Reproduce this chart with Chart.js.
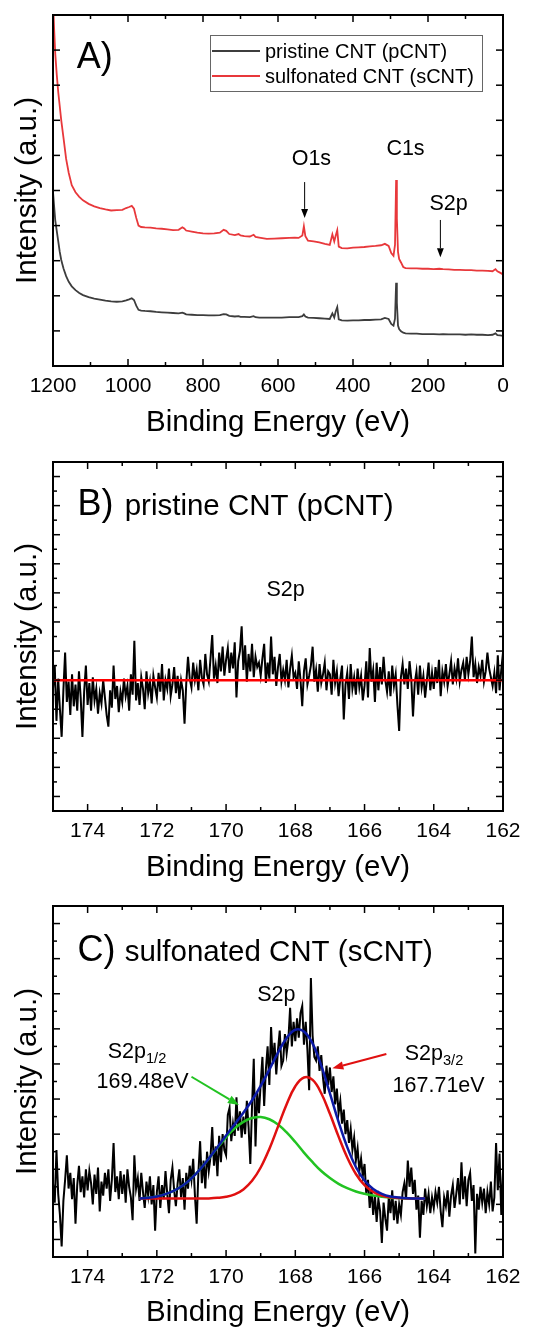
<!DOCTYPE html>
<html>
<head>
<meta charset="utf-8">
<script src="https://cdn.jsdelivr.net/npm/chart.js@4.4.1/dist/chart.umd.min.js"></script>
<style>
  body { margin: 0; background: #fff; }
  #wrap { position: relative; width: 543px; height: 1328px; }
  canvas { position: absolute; left: 0; }
</style>
</head>
<body>
<div id="wrap">
  <canvas id="chart-a" width="543" height="440" style="top:0px"></canvas>
  <canvas id="chart-b" width="543" height="445" style="top:440px"></canvas>
  <canvas id="chart-c" width="543" height="443" style="top:885px"></canvas>
</div>
<script>
// A) survey spectra, binding energy (eV) vs intensity (a.u.)
const surveyEnergy = [1200, 1197, 1194, 1190, 1186, 1182, 1178, 1172, 1165, 1158, 1150, 1140, 1130, 1120, 1105, 1090, 1075, 1060, 1045, 1030,
    1015, 1005, 997, 990, 984, 978, 972, 965, 955, 940, 925, 910, 895, 880, 865, 855, 850, 845, 830, 815,
    800, 785, 770, 755, 745, 738, 730, 715, 705, 700, 690, 675, 665, 660, 650, 630, 610, 590, 570, 555,
    545, 535, 531, 527, 520, 505, 490, 475, 462, 455, 450, 446, 442, 438, 430, 415, 400, 385, 370, 355,
    340, 325, 315, 305, 298, 292, 288, 285, 283, 280, 277, 272, 266, 260, 245, 230, 215, 200, 185, 170,
    160, 145, 130, 115, 100, 85, 70, 55, 40, 28, 20, 15, 8, 0];
const surveyPristine = [4.96, 4.55, 4.15, 3.85, 3.55, 3.25, 3.02, 2.78, 2.56, 2.40, 2.27, 2.16, 2.08, 2.02, 1.96, 1.92, 1.89, 1.86, 1.84, 1.83,
    1.84, 1.87, 1.90, 1.93, 1.88, 1.72, 1.60, 1.58, 1.57, 1.56, 1.54, 1.53, 1.52, 1.51, 1.50, 1.52, 1.50, 1.47, 1.46, 1.45,
    1.45, 1.44, 1.44, 1.45, 1.48, 1.47, 1.43, 1.41, 1.42, 1.40, 1.40, 1.39, 1.42, 1.39, 1.38, 1.38, 1.38, 1.38, 1.39, 1.39,
    1.39, 1.42, 1.47, 1.41, 1.38, 1.37, 1.36, 1.35, 1.34, 1.50, 1.38, 1.56, 1.68, 1.33, 1.30, 1.29, 1.30, 1.30, 1.31, 1.31,
    1.32, 1.33, 1.37, 1.34, 1.20, 1.15, 1.35, 2.37, 1.80, 1.15, 1.05, 0.99, 0.95, 0.93, 0.92, 0.92, 0.91, 0.91, 0.91, 0.90,
    0.91, 0.90, 0.90, 0.90, 0.89, 0.90, 0.89, 0.89, 0.88, 0.89, 0.93, 0.88, 0.87, 0.86];
const surveySulfonated = [10.4, 9.6, 8.9, 8.3, 7.8, 7.4, 7.0, 6.5, 5.9, 5.5, 5.15, 4.95, 4.82, 4.72, 4.62, 4.55, 4.50, 4.46, 4.43, 4.44,
    4.45, 4.50, 4.53, 4.56, 4.48, 4.22, 4.00, 3.96, 3.95, 3.94, 3.92, 3.91, 3.89, 3.87, 3.88, 3.95, 3.92, 3.86, 3.83, 3.80,
    3.78, 3.77, 3.78, 3.80, 3.88, 3.85, 3.76, 3.73, 3.76, 3.72, 3.70, 3.69, 3.74, 3.68, 3.66, 3.62, 3.63, 3.64, 3.65, 3.66,
    3.65, 3.72, 3.98, 3.70, 3.57, 3.55, 3.52, 3.48, 3.45, 3.75, 3.55, 3.72, 3.87, 3.40, 3.36, 3.35, 3.37, 3.38, 3.39, 3.41,
    3.42, 3.44, 3.48, 3.42, 3.22, 3.14, 3.45, 5.30, 4.20, 3.25, 3.05, 2.95, 2.82, 2.79, 2.78, 2.78, 2.77, 2.77, 2.76, 2.77,
    2.76, 2.75, 2.74, 2.74, 2.73, 2.73, 2.72, 2.72, 2.71, 2.70, 2.76, 2.70, 2.66, 2.61];

// B) and C) S2p scans, 175 -> 162 eV in 0.05 eV steps
const S2P_START = 175;
const S2P_STEP = 0.05;
const pristineS2p = [
    8.4, 10.0, 6.2, 9.1, 7.0, 5.1, 8.3, 10.9, 7.5, 8.9, 6.6, 9.4, 7.2, 8.7, 6.9, 9.6, 7.8, 5.1, 8.2, 10.0,
    7.3, 8.8, 6.9, 9.2, 7.6, 8.4, 6.7, 8.1, 7.4, 9.0, 7.8, 6.6, 5.8, 8.3, 7.1, 10.0, 7.7, 8.6, 6.8, 8.2,
    7.5, 9.1, 7.9, 8.6, 6.9, 9.4, 8.0, 11.7, 7.6, 8.8, 7.3, 9.2, 8.4, 7.0, 9.6, 8.1, 8.9, 7.4, 9.3, 8.5,
    7.8, 9.5, 8.2, 10.1, 7.6, 9.0, 8.4, 9.8, 7.9, 8.7, 9.9, 8.1, 9.3, 7.7, 9.0, 8.3, 6.0, 8.8, 10.6, 9.1,
    8.5, 10.2, 9.0, 9.7, 8.3, 10.4, 9.2, 8.7, 10.8, 9.4, 8.9, 10.5, 12.1, 9.1, 10.0, 8.8, 10.9, 9.6, 11.3, 9.3,
    10.4, 11.2, 9.5, 10.9, 9.8, 11.6, 7.8, 10.3, 11.0, 12.7, 9.7, 11.4, 8.9, 10.8, 9.6, 11.5, 9.2, 10.6, 9.9, 10.2,
    9.3, 10.5, 11.5, 8.8, 10.2, 9.1, 12.0, 9.4, 10.6, 8.6, 9.9, 10.8, 8.9, 9.7, 9.0, 10.4, 8.5, 9.8, 10.7, 9.2,
    9.5, 8.4, 10.3, 9.0, 7.2, 9.6, 10.5, 8.7, 9.3, 10.0, 11.3, 8.9, 9.7, 8.2, 10.1, 8.8, 9.4, 10.2, 8.3, 9.6,
    9.4, 8.0, 10.4, 8.8, 9.6, 7.9, 9.1, 10.0, 6.3, 8.7, 9.5, 7.7, 10.1, 8.4, 9.2, 8.0, 9.8, 8.5, 9.3, 7.6,
    8.6, 10.3, 7.8, 11.2, 8.9, 9.7, 7.5, 10.2, 8.3, 9.9, 8.7, 10.6, 9.0, 8.2, 9.6, 7.9, 10.0, 8.6, 9.4, 7.3,
    5.5, 9.2, 10.1, 8.7, 9.8, 8.4, 10.3, 9.1, 6.5, 8.8, 9.6, 8.0, 10.0, 8.5, 9.3, 7.8, 9.0, 10.2, 8.3, 9.5,
    8.4, 9.9, 8.8, 10.4, 7.9, 9.6, 8.9, 10.1, 8.6, 9.4, 10.3, 8.7, 9.8, 9.1, 10.5, 8.9, 9.7, 10.2, 9.0, 10.6,
    9.4, 10.3, 12.0, 9.2, 10.1, 8.8, 9.9, 9.3, 10.4, 8.9, 9.6, 10.9, 9.8, 9.2, 8.6, 9.5, 8.1, 10.7, 8.3, 9.7,
    10.9];
const pristineFitEnergy = [175, 162];
const pristineFit = [9.0, 9.0];

const sulfonatedS2p = [
    4.2, 3.1, 6.1, 3.6, 2.4, 0.6, 3.2, 4.4, 5.8, 3.9, 4.8, 3.3, 4.5, 1.9, 4.1, 5.2, 3.7, 4.6, 3.4, 5.0,
    3.8, 4.9, 4.2, 3.0, 4.7, 3.6, 5.1, 2.6, 4.3, 3.5, 4.8, 3.9, 5.0, 3.2, 4.4, 6.5, 3.7, 4.6, 3.3, 4.9,
    3.6, 4.7, 3.1, 5.0, 4.0, 3.4, 2.1, 5.8, 3.9, 4.5, 3.2, 4.8, 3.7, 2.8, 4.3, 3.5, 4.6, 3.0, 4.1, 1.5,
    3.7, 4.6, 2.8, 4.1, 3.3, 4.9, 3.6, 2.5, 4.4, 5.1, 3.8, 2.9, 4.2, 5.0, 3.4, 4.5, 2.7, 4.8, 3.9, 5.2,
    4.4, 5.6, 3.5, 1.9, 4.8, 6.6, 4.2, 5.5, 3.9, 6.0, 4.9, 5.7, 7.4, 5.2, 6.3, 4.6, 6.9, 5.4, 7.0, 6.1,
    5.8, 8.1, 8.5, 6.6, 7.6, 6.9, 9.1, 7.2, 8.3, 6.8, 8.0, 7.0, 8.9, 7.4, 5.3, 8.6, 11.3, 6.3, 9.4, 8.2,
    9.9, 11.4, 8.6, 10.7, 12.0, 9.8, 13.1, 11.0, 12.2, 10.4, 11.8, 12.9, 10.9, 11.2, 12.7, 11.6, 12.4, 14.2, 12.0, 13.4,
    12.3, 13.6, 12.5, 13.9, 14.3, 12.1, 13.4, 11.8, 9.5, 15.9, 12.6, 11.4, 11.2, 12.0, 10.6, 11.5, 10.2, 9.3, 10.9, 9.8,
    10.8, 9.4, 10.3, 8.7, 9.6, 8.2, 8.9, 7.6, 8.4, 7.0, 7.8, 6.5, 7.3, 6.1, 6.8, 5.5, 6.2, 4.9, 5.6, 4.6,
    5.3, 3.6, 4.4, 2.8, 3.9, 2.4, 3.5, 2.0, 3.3, 2.6, 0.8, 3.1, 2.2, 1.5, 3.4, 2.5, 3.8, 2.1, 3.2, 1.9,
    3.0, 2.4, 3.7, 4.2, 3.3, 5.5, 4.0, 5.1, 3.6, 4.4, 2.7, 3.5, 1.1, 3.2, 2.4, 3.9, 2.9, 3.6, 2.5, 3.4,
    2.8, 3.7, 3.1, 4.0, 2.6, 1.7, 3.4, 2.9, 3.8, 2.3, 3.5, 4.1, 2.8, 3.6, 4.5, 3.0, 5.4, 3.3, 4.6, 2.9,
    4.4, 4.8, 3.2, 4.1, 0.2, 3.6, 2.7, 4.0, 3.1, 3.9, 2.5, 3.7, 3.0, 4.3, 2.6, 3.4, 6.5, 3.8, 5.9, 2.4,
    4.9];

// peak fit of the sCNT S2p region
const fitEnergy = [172.5, 172.25, 172.0, 171.75, 171.5, 171.25, 171.0, 170.75, 170.5, 170.25, 170.0, 169.75,
    169.5, 169.25, 169.0, 168.75, 168.5, 168.25, 168.0, 167.75, 167.5, 167.25, 167.0, 166.75,
    166.5, 166.25, 166.0, 165.75, 165.5, 165.25, 165.0, 164.75, 164.5, 164.25];
const fitS2p12 = [3.33, 3.37, 3.45, 3.58, 3.78, 4.07, 4.48, 5.00, 5.60, 6.22, 6.82, 7.33,
    7.70, 7.92, 7.98, 7.85, 7.55, 7.10, 6.55, 5.95, 5.40, 4.90, 4.50, 4.17,
    3.92, 3.73, 3.60, 3.50, 3.43, 3.38, 3.36, 3.34, 3.33, 3.33];
const fitS2p32 = [3.33, 3.33, 3.33, 3.33, 3.33, 3.33, 3.33, 3.33, 3.34, 3.37, 3.43, 3.57,
    3.85, 4.34, 5.10, 6.16, 7.43, 8.71, 9.73, 10.23, 10.09, 9.33, 8.16, 6.86,
    5.67, 4.73, 4.09, 3.71, 3.50, 3.40, 3.36, 3.34, 3.33, 3.33];
const fitEnvelope = [3.33, 3.37, 3.45, 3.58, 3.78, 4.07, 4.48, 5.00, 5.61, 6.26, 6.92, 7.57,
    8.22, 8.93, 9.75, 10.68, 11.65, 12.48, 12.95, 12.85, 12.16, 10.90, 9.33, 7.70,
    6.26, 5.13, 4.36, 3.88, 3.60, 3.45, 3.39, 3.35, 3.33, 3.33];

const FONT = '"Liberation Sans", Arial, sans-serif';
Chart.defaults.font.family = FONT;
Chart.defaults.color = '#000';

const pts = (xs, ys) => ys.map((y, i) => ({ x: xs[i], y: y }));
const scanPts = ys => ys.map((y, i) => ({ x: S2P_START - i * S2P_STEP, y: y }));

function line(ctx, x1, y1, x2, y2) {
    ctx.beginPath();
    ctx.moveTo(x1, y1);
    ctx.lineTo(x2, y2);
    ctx.stroke();
}

function arrow(ctx, x1, y1, x2, y2, color, width, head) {
    const a = Math.atan2(y2 - y1, x2 - x1);
    const bx = x2 - head * Math.cos(a), by = y2 - head * Math.sin(a);
    const w = head * 0.38;
    ctx.strokeStyle = color;
    ctx.fillStyle = color;
    ctx.lineWidth = width;
    line(ctx, x1, y1, bx, by);
    ctx.beginPath();
    ctx.moveTo(x2, y2);
    ctx.lineTo(bx + w * Math.sin(a), by - w * Math.cos(a));
    ctx.lineTo(bx - w * Math.sin(a), by + w * Math.cos(a));
    ctx.closePath();
    ctx.fill();
}

// box frame with inward ticks on all four sides
function framePlugin(xMajor, yMajor, ySkipMinor) {
    return {
        id: 'frame',
        afterDatasetsDraw(chart) {
            const { ctx, chartArea: a, scales: { x, y } } = chart;
            ctx.save();
            ctx.strokeStyle = '#000';
            ctx.lineWidth = 1.5;
            x.ticks.forEach(t => {
                const px = x.getPixelForValue(t.value);
                if (px < a.left + 2 || px > a.right - 2) return;
                const len = xMajor(t.value) ? 7 : 4;
                line(ctx, px, a.bottom, px, a.bottom - len);
                line(ctx, px, a.top, px, a.top + len);
            });
            y.ticks.forEach(t => {
                const py = y.getPixelForValue(t.value);
                if (py < a.top + 2 || py > a.bottom - 2) return;
                const major = yMajor(t.value);
                if (!major && ySkipMinor) return;
                const len = major ? 7 : 4;
                line(ctx, a.left, py, a.left + len, py);
                line(ctx, a.right, py, a.right - len, py);
            });
            ctx.lineWidth = 2;
            ctx.strokeRect(a.left, a.top, a.right - a.left, a.bottom - a.top);
            ctx.restore();
        }
    };
}

// labels and arrows placed in data coordinates
function notesPlugin(items, withLegend) {
    return {
        id: 'notes',
        afterDraw(chart) {
            const { ctx, chartArea: a, scales: { x, y } } = chart;
            ctx.save();
            items.forEach(n => {
                if (n.kind === 'arrow') {
                    arrow(ctx, x.getPixelForValue(n.x1), y.getPixelForValue(n.y1),
                        x.getPixelForValue(n.x2), y.getPixelForValue(n.y2), n.color, n.width, n.head);
                    return;
                }
                const px = x.getPixelForValue(n.x), py = y.getPixelForValue(n.y);
                ctx.fillStyle = '#000';
                ctx.textBaseline = 'alphabetic';
                ctx.font = n.size + 'px ' + FONT;
                ctx.textAlign = n.align || 'left';
                ctx.fillText(n.text, px, py);
                if (n.sub) {
                    const w = ctx.measureText(n.text).width;
                    ctx.font = (n.size * 0.68) + 'px ' + FONT;
                    ctx.textAlign = 'left';
                    ctx.fillText(n.sub, px + w, py + n.size * 0.24);
                }
            });
            if (withLegend) {
                const bx = a.left + 157, by = a.top + 20;
                ctx.strokeStyle = '#666';
                ctx.lineWidth = 1;
                ctx.strokeRect(bx + 0.5, by + 0.5, 272, 56);
                ctx.font = '20px ' + FONT;
                ctx.textAlign = 'left';
                ctx.fillStyle = '#000';
                chart.data.datasets.forEach((ds, i) => {
                    const ly = by + 16 + i * 25;
                    ctx.strokeStyle = ds.borderColor;
                    ctx.lineWidth = 2;
                    line(ctx, bx + 2, ly, bx + 50, ly);
                    ctx.fillText(ds.label, bx + 55, ly + 7);
                });
            }
            ctx.restore();
        }
    };
}

function axes(o) {
    return {
        x: {
            type: 'linear', min: o.xMin, max: o.xMax, reverse: true,
            afterFit: s => { s.height = o.xHeight; },
            grid: { display: false, drawTicks: false },
            border: { display: false },
            ticks: {
                stepSize: o.xStep, autoSkip: false, maxRotation: 0, padding: 8,
                font: { size: 21 }, color: '#000',
                callback: v => o.xMajor(v) ? String(v) : ''
            },
            title: {
                display: true, text: 'Binding Energy (eV)', color: '#000',
                font: { size: 29.5, lineHeight: 1 }, padding: { top: 0, bottom: o.titlePad }
            }
        },
        y: {
            type: 'linear', min: 0, max: o.yMax,
            afterFit: s => { s.width = 53; },
            grid: { display: false, drawTicks: false },
            border: { display: false },
            ticks: { display: false, stepSize: 1 },
            title: {
                display: true, text: 'Intensity (a.u.)', color: '#000',
                font: { size: 29.5, lineHeight: 1 }, padding: { top: 13, bottom: 0 }
            }
        }
    };
}

const baseOptions = (top, scales) => ({
    responsive: false,
    animation: false,
    events: [],
    layout: { padding: { top: top, right: 40, left: 0, bottom: 0 } },
    elements: { point: { radius: 0 }, line: { tension: 0 } },
    plugins: { legend: { display: false }, tooltip: { enabled: false } },
    scales: scales
});

const everyOther200 = v => v % 200 === 0;
const even = v => v % 2 === 0;
const odd = v => Math.abs(v % 2) === 1;

new Chart(document.getElementById('chart-a'), {
    type: 'line',
    data: {
        datasets: [
            { label: 'pristine CNT (pCNT)', data: pts(surveyEnergy, surveyPristine), borderColor: '#3d3d3d', borderWidth: 1.8 },
            { label: 'sulfonated CNT (sCNT)', data: pts(surveyEnergy, surveySulfonated), borderColor: '#e8383b', borderWidth: 1.8 }
        ]
    },
    options: baseOptions(15, axes({ xMin: 0, xMax: 1200, xStep: 100, xMajor: everyOther200, xHeight: 74, titlePad: 2, yMax: 10 })),
    plugins: [
        framePlugin(everyOther200, () => true, false),
        notesPlugin([
            { text: 'A)', x: 1136.8, y: 8.49, size: 36 },
            { text: 'O1s', x: 511, y: 5.73, size: 21.5, align: 'center' },
            { kind: 'arrow', x1: 529, y1: 5.24, x2: 529, y2: 4.22, color: '#000', width: 1, head: 9 },
            { text: 'C1s', x: 260, y: 6.02, size: 21.5, align: 'center' },
            { text: 'S2p', x: 145, y: 4.45, size: 21.5, align: 'center' },
            { kind: 'arrow', x1: 167, y1: 4.16, x2: 167, y2: 3.10, color: '#000', width: 1, head: 9 }
        ], true)
    ]
});

new Chart(document.getElementById('chart-b'), {
    type: 'line',
    data: {
        datasets: [
            { label: 'fit', data: pts(pristineFitEnergy, pristineFit), borderColor: '#ff0000', borderWidth: 2.5, order: 0 },
            { label: 'pCNT S2p', data: scanPts(pristineS2p), borderColor: '#000', borderWidth: 2, order: 1 }
        ]
    },
    options: baseOptions(22, axes({ xMin: 162, xMax: 175, xStep: 1, xMajor: even, xHeight: 74, titlePad: 2, yMax: 24 })),
    plugins: [
        framePlugin(even, odd, false),
        notesPlugin([
            { text: 'B)', x: 174.29, y: 20.36, size: 36 },
            { text: 'pristine CNT (pCNT)', x: 172.93, y: 20.36, size: 29.5 },
            { text: 'S2p', x: 168.28, y: 14.81, size: 21.5, align: 'center' }
        ], false)
    ]
});

new Chart(document.getElementById('chart-c'), {
    type: 'line',
    data: {
        datasets: [
            { label: 'envelope', data: pts(fitEnergy, fitEnvelope), borderColor: '#0c1aa6', borderWidth: 2.5, tension: 0.4, order: 0 },
            { label: 'S2p3/2', data: pts(fitEnergy, fitS2p32), borderColor: '#e01010', borderWidth: 2.5, tension: 0.4, order: 1 },
            { label: 'S2p1/2', data: pts(fitEnergy, fitS2p12), borderColor: '#22c322', borderWidth: 2.5, tension: 0.4, order: 2 },
            { label: 'sCNT S2p', data: scanPts(sulfonatedS2p), borderColor: '#000', borderWidth: 2, order: 3 }
        ]
    },
    options: baseOptions(21, axes({ xMin: 162, xMax: 175, xStep: 1, xMajor: even, xHeight: 71, titlePad: 0, yMax: 20 })),
    plugins: [
        framePlugin(even, odd, false),
        notesPlugin([
            { text: 'C)', x: 174.29, y: 16.87, size: 36 },
            { text: 'sulfonated CNT (sCNT)', x: 172.93, y: 16.87, size: 29.5 },
            { text: 'S2p', x: 168.55, y: 14.59, size: 21.5, align: 'center' },
            { text: 'S2p', sub: '1/2', x: 173.42, y: 11.36, size: 21.5 },
            { text: '169.48eV', x: 173.74, y: 9.65, size: 21.5 },
            { text: 'S2p', sub: '3/2', x: 164.84, y: 11.24, size: 21.5 },
            { text: '167.71eV', x: 165.19, y: 9.42, size: 21.5 },
            { kind: 'arrow', x1: 171.0, y1: 10.27, x2: 169.63, y2: 8.66, color: '#22c322', width: 2, head: 11 },
            { kind: 'arrow', x1: 165.37, y1: 11.57, x2: 166.93, y2: 10.75, color: '#e01010', width: 2, head: 11 }
        ], false)
    ]
});
</script>
</body>
</html>
